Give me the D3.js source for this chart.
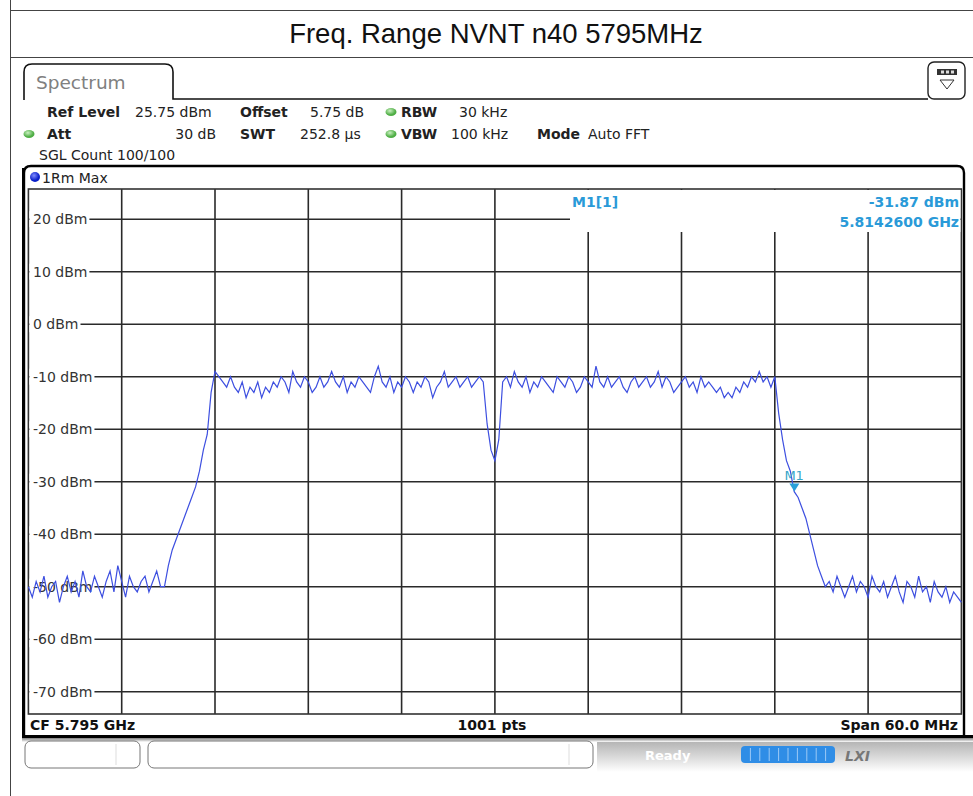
<!DOCTYPE html>
<html>
<head>
<meta charset="utf-8">
<script src="https://cdn.jsdelivr.net/npm/d3@7"></script>
<style>
  body { margin: 0; background: #fff; }
  svg text { font-family: "DejaVu Sans", Verdana, sans-serif; }
</style>
</head>
<body>
<div id="chart"></div>
<script>
// ---- values ----
var title = 'Freq. Range NVNT n40 5795MHz';
var refLevel = 25.75;          // dBm, top of the screen
var rangeDb = 100;             // 10 dB / div
var centerGHz = 5.795;
var spanMHz = 60;
var yTicks = [20, 10, 0, -10, -20, -30, -40, -50, -60, -70];
var yTickLabels = ['20 dBm', '10 dBm', '0 dBm', '-10 dBm', '-20 dBm', '-30 dBm', '-40 dBm', '-50 dBm', '-60 dBm', '-70 dBm'];

// trace (1Rm Max), one value every 0.25 MHz from CF-30 MHz to CF+30 MHz
var traceLevels = [
  -50,-52,-49,-51,-48,-52,-50,-49,-53,-50,
  -48,-51,-49,-52,-47,-50,-51,-48,-50,-52,
  -49,-47,-51,-46,-49,-52,-48,-50,-51,-49,
  -48,-51,-49,-47,-50,-50,-46,-43,-41,-39,
  -37,-35,-33,-31,-28,-24,-21,-13,-9,-10,
  -11,-12,-10,-12,-13,-11,-14,-12,-13,-11,
  -14,-12,-13,-11,-12,-10,-11,-13,-9,-11,
  -12,-10,-11,-13,-12,-10,-12,-11,-9,-11,
  -12,-10,-13,-11,-12,-10,-11,-12,-13,-10,
  -8,-11,-12,-10,-13,-11,-12,-10,-11,-13,
  -11,-12,-10,-11,-14,-12,-11,-9,-12,-11,
  -10,-12,-11,-10,-12,-11,-10,-11,-19,-24,
  -26,-22,-11,-10,-12,-9,-11,-12,-10,-13,
  -11,-12,-10,-11,-12,-13,-10,-11,-12,-10,
  -11,-13,-12,-10,-11,-12,-8,-11,-12,-10,
  -12,-11,-10,-12,-13,-11,-10,-12,-11,-10,
  -12,-11,-9,-12,-10,-11,-13,-12,-11,-10,
  -12,-11,-13,-10,-12,-11,-12,-13,-12,-14,
  -13,-14,-12,-13,-11,-12,-10,-11,-9,-11,
  -10,-12,-10,-17,-22,-26,-28,-31.9,-33,-35,
  -37,-40,-43,-46,-48,-50,-49,-51,-48,-50,
  -52,-50,-48,-51,-49,-50,-52,-48,-50,-51,
  -49,-52,-50,-48,-51,-53,-49,-50,-52,-48,
  -51,-50,-53,-49,-51,-52,-50,-53,-51,-52,
  -53
];

var markerFreqGHz = 5.81426;
var markerLevel = -31.87;

var infoRow1 = [
  {t: 'Ref Level', x: 47, b: true}, {t: '25.75 dBm', x: 135},
  {t: 'Offset', x: 240, b: true}, {t: '5.75 dB', x: 310},
  {t: 'RBW', x: 401, b: true}, {t: '30 kHz', x: 459}
];
var infoRow2 = [
  {t: 'Att', x: 47, b: true}, {t: '30 dB', x: 216, anchor: 'end'},
  {t: 'SWT', x: 240, b: true}, {t: '252.8 µs', x: 300},
  {t: 'VBW', x: 401, b: true}, {t: '100 kHz', x: 451},
  {t: 'Mode', x: 537, b: true}, {t: 'Auto FFT', x: 588}
];

// ---- drawing ----
var W = 973, H = 796;
var svg = d3.select('#chart').append('svg')
    .attr('width', W).attr('height', H);

var defs = svg.append('defs');
var g1 = defs.append('radialGradient').attr('id', 'greenDot').attr('cx', '40%').attr('cy', '35%');
g1.append('stop').attr('offset', '0%').attr('stop-color', '#c9f0c0');
g1.append('stop').attr('offset', '100%').attr('stop-color', '#4fae45');
var g2 = defs.append('radialGradient').attr('id', 'blueDot').attr('cx', '40%').attr('cy', '35%');
g2.append('stop').attr('offset', '0%').attr('stop-color', '#7f8cff');
g2.append('stop').attr('offset', '100%').attr('stop-color', '#0a1fc8');
var g3 = defs.append('linearGradient').attr('id', 'statusGrad').attr('x1', 0).attr('x2', 0).attr('y1', 0).attr('y2', 1);
g3.append('stop').attr('offset', '0%').attr('stop-color', '#b5b5b5');
g3.append('stop').attr('offset', '100%').attr('stop-color', '#ffffff');
var g4 = defs.append('linearGradient').attr('id', 'shadowGrad').attr('x1', 0).attr('x2', 0).attr('y1', 0).attr('y2', 1);
g4.append('stop').attr('offset', '0%').attr('stop-color', '#000');
g4.append('stop').attr('offset', '100%').attr('stop-color', '#000').attr('stop-opacity', 0);

// page table lines + title
svg.append('line').attr('x1', 10.5).attr('x2', 10.5).attr('y1', 0).attr('y2', H)
    .attr('stroke', '#444').attr('stroke-width', 1);
[10.5, 57.5].forEach(function(y) {
  svg.append('line').attr('x1', 10).attr('x2', W).attr('y1', y).attr('y2', y)
      .attr('stroke', '#444').attr('stroke-width', 1);
});
svg.append('text').attr('x', 496).attr('y', 43).attr('text-anchor', 'middle')
    .style('font-family', '"Liberation Sans", Arial, sans-serif')
    .style('font-size', '27.5px').attr('fill', '#111').text(title);

// tab + header line
svg.append('path')
    .attr('d', 'M24,100 L24,72 Q24,64 32,64 L165,64 Q173,64 173,72 L173,99 L928,99')
    .attr('fill', 'none').attr('stroke', '#111').attr('stroke-width', 1.6);
svg.append('text').attr('x', 36).attr('y', 89).style('font-size', '18.5px')
    .attr('fill', '#808080').text('Spectrum');

// icon top right
svg.append('rect').attr('x', 928).attr('y', 62).attr('width', 37).attr('height', 37).attr('rx', 6)
    .attr('fill', '#fff').attr('stroke', '#222').attr('stroke-width', 1.4);
svg.append('rect').attr('x', 937).attr('y', 69).attr('width', 20).attr('height', 6).attr('fill', '#333');
[941, 946, 951].forEach(function(x) {
  svg.append('rect').attr('x', x).attr('y', 70.5).attr('width', 3).attr('height', 3).attr('fill', '#ddd');
});
svg.append('path').attr('d', 'M940,80 L954,80 L947,89 Z').attr('fill', 'none').attr('stroke', '#333');

// info rows
function infoRow(items, y) {
  items.forEach(function(d) {
    svg.append('text').attr('x', d.x).attr('y', y)
        .attr('text-anchor', d.anchor || 'start')
        .style('font-size', '14px').style('font-weight', d.b ? 'bold' : 'normal')
        .attr('fill', '#222').text(d.t);
  });
}
infoRow(infoRow1, 117);
infoRow(infoRow2, 139);
svg.append('text').attr('x', 39).attr('y', 160).style('font-size', '14px').attr('fill', '#222')
    .text('SGL Count 100/100');
[[391, 112], [29, 134], [391, 134]].forEach(function(p) {
  svg.append('ellipse').attr('cx', p[0]).attr('cy', p[1]).attr('rx', 5.5).attr('ry', 4)
      .attr('fill', 'url(#greenDot)');
});

// plot geometry
var x0 = 28.4, x1 = 961.4, yTop = 189, yBot = 714;
var x = d3.scaleLinear().domain([-spanMHz / 2, spanMHz / 2]).range([x0, x1]);
var y = d3.scaleLinear().domain([refLevel - rangeDb, refLevel]).range([yBot, yTop]);

// outer frame
svg.append('path')
    .attr('d', 'M24,737 L24,173 Q24,166 31,166 L957,166 Q964,166 964,173 L964,737')
    .attr('fill', 'none').attr('stroke', '#000').attr('stroke-width', 2.4);
svg.append('line').attr('x1', 23.5).attr('x2', 23.5).attr('y1', 168).attr('y2', 737)
    .attr('stroke', '#000').attr('stroke-width', 3);
svg.append('rect').attr('x', 22).attr('y', 735).attr('width', W - 22).attr('height', 3).attr('fill', '#000');
svg.append('rect').attr('x', 22).attr('y', 738).attr('width', W - 22).attr('height', 4)
    .attr('fill', 'url(#shadowGrad)').attr('opacity', 0.5);

// trace header
svg.append('circle').attr('cx', 35).attr('cy', 177).attr('r', 5).attr('fill', 'url(#blueDot)');
svg.append('text').attr('x', 42).attr('y', 183).style('font-size', '14px').attr('fill', '#222').text('1Rm Max');

// grid
var grid = svg.append('g').attr('stroke', '#2a2a2a').attr('stroke-width', 1.6);
var vTicks = d3.range(1, 10).map(function(k) { return -spanMHz / 2 + k * spanMHz / 10; });
grid.selectAll('line.v').data(vTicks).enter().append('line')
    .attr('x1', function(d) { return x(d); }).attr('x2', function(d) { return x(d); })
    .attr('y1', yTop).attr('y2', yBot);
grid.selectAll('line.h').data(yTicks).enter().append('line')
    .attr('x1', x0).attr('x2', x1)
    .attr('y1', function(d) { return y(d); }).attr('y2', function(d) { return y(d); });
svg.append('rect').attr('x', x0).attr('y', yTop).attr('width', x1 - x0).attr('height', yBot - yTop)
    .attr('fill', 'none').attr('stroke', '#333').attr('stroke-width', 1.6);

// marker readout area blanks the top right of the grid
svg.append('rect').attr('x', 570).attr('y', yTop + 1).attr('width', x1 - 570 - 1).attr('height', 42)
    .attr('fill', '#fff');

// y labels with white background
yTicks.forEach(function(v, i) {
  var t = svg.append('text').attr('x', 33).attr('y', y(v) + 5)
      .style('font-size', '14px').attr('fill', '#333').text(yTickLabels[i]);
  var bb = t.node().getBBox();
  svg.insert('rect', function() { return t.node(); })
      .attr('x', x0 + 1).attr('y', bb.y).attr('width', bb.x + bb.width + 2 - x0 - 1).attr('height', bb.height)
      .attr('fill', '#fff');
});

// marker readout text
var mColor = '#2a9ad8';
svg.append('text').attr('x', 572).attr('y', 207).style('font-size', '14px').style('font-weight', 'bold')
    .attr('fill', mColor).text('M1[1]');
svg.append('text').attr('x', 959).attr('y', 207).attr('text-anchor', 'end')
    .style('font-size', '14px').style('font-weight', 'bold').attr('fill', mColor)
    .text(markerLevel.toFixed(2) + ' dBm');
svg.append('text').attr('x', 959).attr('y', 227).attr('text-anchor', 'end')
    .style('font-size', '14px').style('font-weight', 'bold').attr('fill', mColor)
    .text(markerFreqGHz.toFixed(7) + ' GHz');

// trace
var n = traceLevels.length;
var stepMHz = spanMHz / (n - 1);
var line = d3.line()
    .x(function(d, i) { return x(-spanMHz / 2 + i * stepMHz); })
    .y(function(d) { return y(d); });
svg.append('path').datum(traceLevels)
    .attr('d', line).attr('fill', 'none')
    .attr('stroke', '#3d4fe0').attr('stroke-width', 1.2);

// marker symbol
var mx = x((markerFreqGHz - centerGHz) * 1000), my = y(markerLevel);
svg.append('path')
    .attr('d', 'M' + (mx - 5) + ',' + (my - 8) + ' L' + (mx + 5) + ',' + (my - 8) + ' L' + mx + ',' + my + ' Z')
    .attr('fill', '#2aa0d8');
svg.append('text').attr('x', mx - 10).attr('y', my - 12).style('font-size', '13px')
    .attr('fill', '#3aa6c8').text('M1');

// bottom bar
svg.append('text').attr('x', 30).attr('y', 730).style('font-size', '14px').style('font-weight', 'bold')
    .attr('fill', '#111').text('CF ' + centerGHz.toFixed(3) + ' GHz');
svg.append('text').attr('x', 492).attr('y', 730).attr('text-anchor', 'middle')
    .style('font-size', '14px').style('font-weight', 'bold').attr('fill', '#111').text('1001 pts');
svg.append('text').attr('x', 958).attr('y', 730).attr('text-anchor', 'end')
    .style('font-size', '14px').style('font-weight', 'bold').attr('fill', '#111')
    .text('Span ' + spanMHz.toFixed(1) + ' MHz');

// status bar
svg.append('rect').attr('x', 597).attr('y', 742).attr('width', W - 597).attr('height', 30)
    .attr('fill', 'url(#statusGrad)');
svg.append('text').attr('x', 645).attr('y', 760).style('font-size', '13px').style('font-weight', 'bold')
    .attr('fill', '#fff').text('Ready');
[[25, 115], [148, 445]].forEach(function(b) {
  svg.append('rect').attr('x', b[0]).attr('y', 741).attr('width', b[1]).attr('height', 27).attr('rx', 6)
      .attr('fill', '#fff').attr('stroke', '#777').attr('stroke-width', 1);
  svg.append('line').attr('x1', b[0] + b[1] - 24).attr('x2', b[0] + b[1] - 24).attr('y1', 744).attr('y2', 765)
      .attr('stroke', '#ddd');
});
svg.append('rect').attr('x', 741).attr('y', 746).attr('width', 94).attr('height', 17).attr('rx', 4)
    .attr('fill', '#2f8de6');
d3.range(1, 10).forEach(function(k) {
  svg.append('line').attr('x1', 741 + k * 9.4).attr('x2', 741 + k * 9.4).attr('y1', 748).attr('y2', 761)
      .attr('stroke', '#9cc9f5').attr('stroke-width', 1);
});
svg.append('text').attr('x', 845).attr('y', 761).style('font-size', '14px').style('font-weight', 'bold')
    .style('font-style', 'italic').attr('fill', '#777').text('LXI');
</script>
</body>
</html>
